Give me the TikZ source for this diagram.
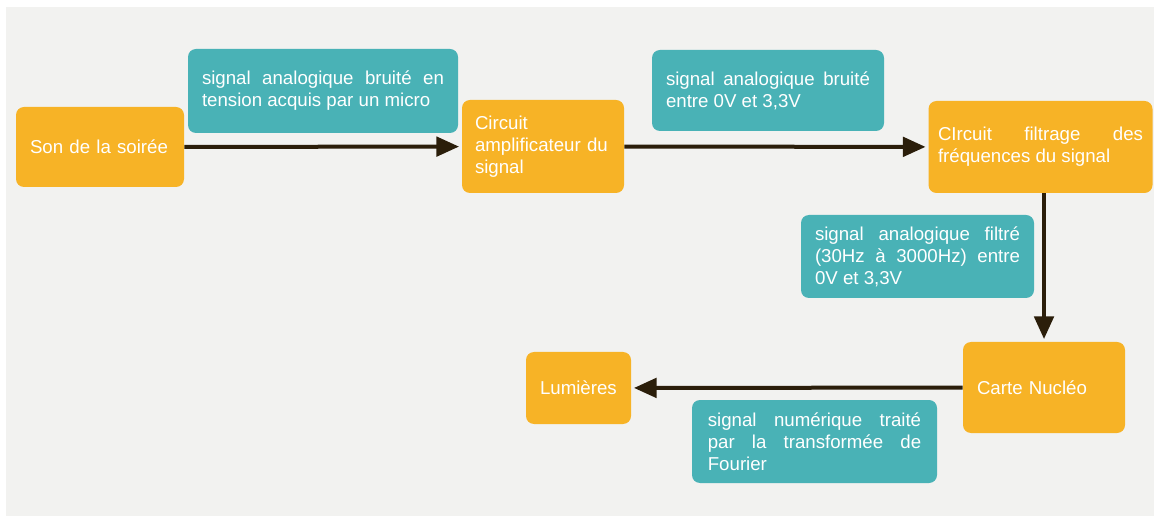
\documentclass[tikz,border=0pt]{standalone}
\usepackage{fontspec}
\setmainfont{Liberation Sans}
\usepackage{xcolor}
\definecolor{boxOrange}{HTML}{F7B326}
\definecolor{boxTeal}  {HTML}{49B2B6}
\definecolor{panelBack}{HTML}{F2F2F0}
\definecolor{arrowDark}{HTML}{2B1E0A}
\usetikzlibrary{arrows.meta, positioning, calc}
\hyphenpenalty=10000
\exhyphenpenalty=10000
\tikzset{
    block/.style={rectangle, rounded corners=6pt, draw=none, text=white,
                  font=\fontsize{14}{16.5}\selectfont, inner xsep=10.5pt,
                  inner ysep=2pt, align=justify},
    stage/.style={block, fill=boxOrange},
    note/.style={block, fill=boxTeal},
    flow/.style={-{Triangle[length=17pt, width=14.5pt]}, line width=3pt,
                 arrowDark, shorten >=2pt},
}

\begin{document}
\begin{tikzpicture}[x=0.75pt, y=-0.75pt]
    \useasboundingbox (0,0) rectangle (1156,516);
    \fill[panelBack] (6,7) rectangle (1154,516);
    % Processing stages
    \node[stage, text width=105pt, minimum height=60pt, align=left]
        (son) at (100,147) {Son de la soirée};
    \node[stage, text width=102pt, minimum height=69.75pt, inner xsep=9.75pt,
          align=left]
        (ampli) at (543,146.5) {Circuit\\amplificateur du\\signal};
    \node[stage, text width=153.75pt, minimum height=69pt, inner xsep=7.125pt]
        (filtre) at (1040.5,147) {CIrcuit filtrage des fréquences du signal};
    \node[stage, text width=100.5pt, minimum height=68.25pt, align=left]
        (carte) at (1044,387.5) {Carte Nucléo};
    \node[stage, text width=57.75pt, minimum height=54pt, align=left]
        (lum) at (578.5,388) {Lumières};
    % Signal descriptions
    \node[note, text width=181.5pt, minimum height=63pt]
        (sig1) at (323,91) {signal analogique bruité en tension acquis par un micro};
    \node[note, text width=153pt, minimum height=60.75pt]
        (sig2) at (768,90.5) {signal analogique bruité entre 0V et 3,3V};
    \node[note, text width=153.75pt, minimum height=62.25pt]
        (sig3) at (917.5,256.5) {signal analogique filtré (30Hz à 3000Hz) entre 0V et 3,3V};
    \node[note, text width=160pt, minimum height=62.25pt, inner xsep=11.875pt]
        (sig4) at (814.5,441.5) {signal numérique traité par la transformée de Fourier};
    % Signal path
    \draw[flow] (son) -- (ampli);
    \draw[flow] (ampli) -- (filtre);
    \draw[flow] (carte.north |- filtre.south) -- (carte.north);
    \draw[flow] (carte) -- (lum);
\end{tikzpicture}
\end{document}
